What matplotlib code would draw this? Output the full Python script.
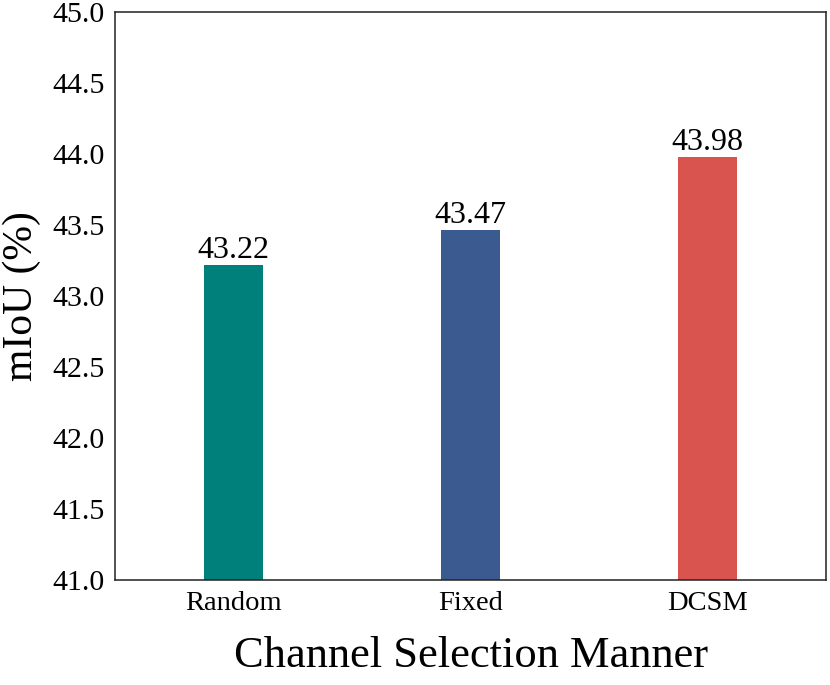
import matplotlib.pyplot as plt

methods = ["Random", "Fixed", "DCSM"]
miou = [43.22, 43.47, 43.98]
colors = ["#00807A", "#3B5A8F", "#D9534F"]
yticks = [41.0, 41.5, 42.0, 42.5, 43.0, 43.5, 44.0, 44.5, 45.0]

plt.rcParams['font.family'] = ['Liberation Serif', 'DejaVu Serif']

fig, ax = plt.subplots(figsize=(8.3, 6.85), dpi=100)
x = range(len(methods))
bars = ax.bar(x, miou, width=0.25, color=colors)

for b, v in zip(bars, miou):
    ax.text(b.get_x() + b.get_width() / 2, v, f"{v:.2f}", ha="center", va="bottom", fontsize=23)

ax.set_xlim(-0.5, 2.5)
ax.set_ylim(41.0, 45.0)
ax.set_yticks(yticks)
ax.set_yticklabels([f"{t:.1f}" for t in yticks], fontsize=21.5)
ax.set_xticks(list(x))
ax.set_xticklabels(methods, fontsize=20.5)
ax.tick_params(length=0, pad=8)
for s in ax.spines.values():
    s.set_linewidth(1.1)
    s.set_color("#222222")
ax.set_ylabel("mIoU (%)", fontsize=30, labelpad=8)
ax.set_xlabel("Channel Selection Manner", fontsize=32, labelpad=14)

plt.subplots_adjust(left=0.139, right=0.995, top=0.982, bottom=0.153)
plt.savefig("out.png", dpi=100)
